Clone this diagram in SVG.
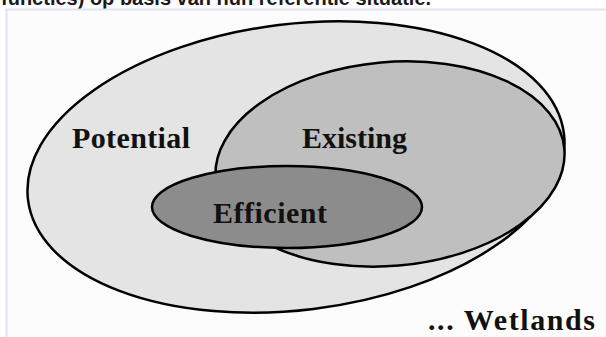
<svg xmlns="http://www.w3.org/2000/svg" width="606" height="337" viewBox="0 0 606 337">
<style>
.set{stroke:#000;stroke-width:2.5}
.lbl{font-family:"Liberation Serif","Times New Roman",serif;font-weight:bold;font-size:30px;fill:#111}
</style>
<rect x="0" y="0" width="606" height="337" fill="#fff"/>
<text x="1" y="4.5" font-family="Liberation Sans, Arial, sans-serif" font-weight="bold" font-size="20" fill="#1a1a1a">functies) op basis van hun referentie situatie.</text>
<rect x="6.5" y="9.5" width="610" height="340" fill="#fcfcfc" stroke="#e2e2f4" stroke-width="2"/>
<g id="potential">
<ellipse class="set" cx="296" cy="167" rx="270" ry="143" transform="rotate(-7 296 167)" fill="#e4e4e4"/>
<text class="lbl" x="72" y="148" textLength="118">Potential</text>
</g>
<g id="existing">
<ellipse class="set" cx="390" cy="164" rx="175" ry="102" transform="rotate(-5 390 164)" fill="#bfbfbf"/>
<text class="lbl" x="302" y="148" textLength="105">Existing</text>
</g>
<g id="efficient">
<ellipse class="set" cx="287" cy="207" rx="135" ry="41" fill="#8c8c8c"/>
<text class="lbl" x="213" y="223" textLength="114">Efficient</text>
</g>
<g id="wetlands">
<text class="lbl" x="428" y="330" font-size="33" textLength="167">... Wetlands</text>
</g>
<g id="connectors"></g>
</svg>
